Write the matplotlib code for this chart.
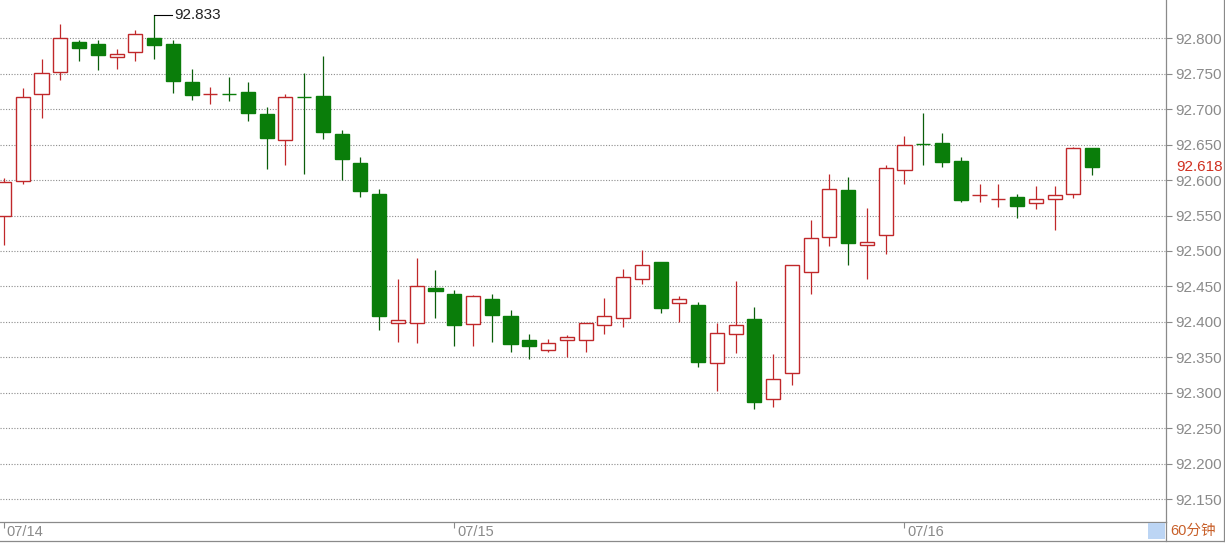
import numpy as np
import matplotlib
matplotlib.use('Agg')
import matplotlib.pyplot as plt
from matplotlib.lines import Line2D
from matplotlib.patches import Rectangle

plt.rcParams['font.family'] = ['Liberation Sans', 'Noto Sans CJK SC', 'DejaVu Sans']

# 60-minute candles, 07/14 00:00 .. 07/16 10:00
opens = [92.549, 92.599, 92.722, 92.753, 92.795, 92.792, 92.773, 92.780, 92.800, 92.792,
         92.738, 92.721, 92.7215, 92.724, 92.693, 92.657, 92.7172, 92.719, 92.665, 92.624,
         92.581, 92.399, 92.398, 92.448, 92.439, 92.397, 92.432, 92.408, 92.374, 92.361,
         92.375, 92.375, 92.395, 92.406, 92.461, 92.484, 92.427, 92.424, 92.342, 92.383,
         92.404, 92.291, 92.328, 92.470, 92.520, 92.586, 92.508, 92.522, 92.614, 92.6515,
         92.652, 92.627, 92.579, 92.573, 92.576, 92.567, 92.574, 92.581, 92.645]
highs = [92.603, 92.730, 92.771, 92.820, 92.797, 92.798, 92.785, 92.811, 92.833, 92.798,
         92.757, 92.732, 92.746, 92.739, 92.703, 92.721, 92.751, 92.775, 92.671, 92.633,
         92.587, 92.461, 92.490, 92.473, 92.445, 92.438, 92.440, 92.417, 92.383, 92.376,
         92.382, 92.399, 92.433, 92.475, 92.501, 92.485, 92.436, 92.428, 92.398, 92.458,
         92.421, 92.355, 92.480, 92.544, 92.608, 92.604, 92.560, 92.621, 92.662, 92.694,
         92.666, 92.633, 92.595, 92.594, 92.580, 92.591, 92.591, 92.646, 92.645]
lows = [92.508, 92.595, 92.687, 92.741, 92.768, 92.755, 92.756, 92.768, 92.771, 92.723,
        92.713, 92.707, 92.711, 92.684, 92.615, 92.621, 92.608, 92.658, 92.600, 92.576,
        92.388, 92.372, 92.370, 92.406, 92.366, 92.366, 92.372, 92.358, 92.347, 92.358,
        92.351, 92.358, 92.383, 92.393, 92.453, 92.413, 92.400, 92.337, 92.303, 92.356,
        92.277, 92.280, 92.311, 92.440, 92.507, 92.480, 92.461, 92.496, 92.594, 92.621,
        92.619, 92.569, 92.569, 92.562, 92.546, 92.559, 92.530, 92.575, 92.607]
closes = [92.598, 92.717, 92.751, 92.800, 92.786, 92.777, 92.778, 92.806, 92.791, 92.740,
          92.720, 92.7215, 92.721, 92.695, 92.660, 92.717, 92.7168, 92.668, 92.630, 92.584,
          92.409, 92.402, 92.450, 92.444, 92.396, 92.437, 92.410, 92.369, 92.366, 92.370,
          92.379, 92.398, 92.409, 92.463, 92.480, 92.420, 92.432, 92.343, 92.385, 92.396,
          92.287, 92.320, 92.480, 92.518, 92.587, 92.511, 92.513, 92.617, 92.650, 92.651,
          92.626, 92.572, 92.5795, 92.5735, 92.564, 92.573, 92.579, 92.645, 92.618]

date_pos = [0, 24, 48]
date_labels = ['07/14', '07/15', '07/16']
price_ticks = [92.15, 92.20, 92.25, 92.30, 92.35, 92.40, 92.45, 92.50,
               92.55, 92.60, 92.65, 92.70, 92.75, 92.80]
last_price = 92.618
period_label = '60分钟'

up_col = '#c0282a'
dn_col = '#0a7d0a'
gray = '#8a8a8a'

W, H = 1225, 543
fig = plt.figure(figsize=(W / 100, H / 100), dpi=100)
ax = fig.add_axes([0, 1 - 521.7 / H, 1166 / W, 521.7 / H])

o = np.array(opens); c = np.array(closes)
hi = np.array(highs); lo = np.array(lows)
x = np.arange(len(o))
up = c > o

for i in x:
    col = up_col if up[i] else dn_col
    wick = up_col if up[i] else '#0b5e0b'
    ax.vlines(i, lo[i], hi[i], color=wick, lw=0.9, zorder=2)
    b0 = min(o[i], c[i])
    bh = abs(c[i] - o[i])
    ax.bar(i, bh, bottom=b0, width=0.75, facecolor='white' if up[i] else col,
           edgecolor=col, lw=1.0, zorder=3)

ax.set_xlim(-0.213, 61.94)
ax.set_ylim(92.1182, 92.854)

ax.set_yticks(price_ticks)
ax.set_yticklabels(['%.3f' % v for v in price_ticks])
ax.yaxis.tick_right()
ax.tick_params(axis='y', direction='out', length=4, width=0.8, color=gray,
               labelcolor=gray, labelsize=11, pad=2.5)
ax.grid(axis='y', linestyle=(0, (1, 1.5)), color='#8c8c8c', lw=0.8)

ax.set_xticks(date_pos)
ax.set_xticklabels([])
ax.tick_params(axis='x', direction='out', length=4, width=0.8, color=gray)
for p, lab in zip(date_pos, date_labels):
    ax.annotate(lab, xy=(p, 0), xycoords=('data', 'axes fraction'),
                xytext=(2, -2.5), textcoords='offset points',
                ha='left', va='top', fontsize=10.5, color=gray)

for s in ['top', 'left']:
    ax.spines[s].set_visible(False)
for s in ['right', 'bottom']:
    ax.spines[s].set_color(gray)
    ax.spines[s].set_linewidth(0.9)

# highest point marker
k = int(np.argmax(hi))
ax.plot([k, k + 0.95], [hi[k], hi[k]], color='black', lw=0.8, zorder=4)
ax.text(k + 1.05, hi[k], '%.3f' % hi[k], va='center', ha='left',
        fontsize=11, color='#222222')

# last price label on the right axis
ax.annotate('%.3f' % last_price, xy=(1, last_price), xycoords=('axes fraction', 'data'),
            xytext=(7.5, 0), textcoords='offset points', ha='left', va='center',
            fontsize=11, color='#d03020')

# frame pieces outside the plot area
fy0 = 1 - 541 / H
fig.add_artist(Line2D([0, 1], [fy0, fy0], color=gray, lw=0.9))
fig.add_artist(Line2D([1224 / W, 1224 / W], [fy0, 1], color=gray, lw=0.9))
fig.add_artist(Line2D([1166 / W, 1166 / W], [fy0, 1 - 521.7 / H], color=gray, lw=0.9))
fig.add_artist(Rectangle((1148 / W, 1 - 539 / H), 17 / W, 16 / H,
                         facecolor='#bcd5f4', edgecolor='none'))
fig.text(1170 / W, 1 - 531 / H, period_label, ha='left', va='center', fontsize=10.5,
         color='#c8602a', family=['Liberation Sans', 'Noto Sans CJK SC'])

fig.savefig('out.png', dpi=100)
